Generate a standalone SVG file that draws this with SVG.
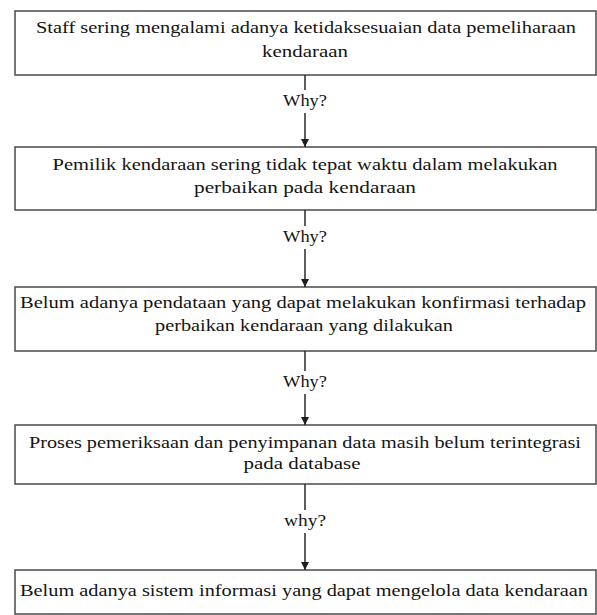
<svg xmlns="http://www.w3.org/2000/svg" width="597" height="615" viewBox="0 0 597 615">
  <style>
    .box { fill: #ffffff; stroke: #4a4a4a; stroke-width: 1.5; }
    .txt { font-family: "Liberation Serif", "Times New Roman", serif; font-size: 16.5px; fill: #141414; text-anchor: middle; }
    .conn { fill: none; stroke: #2a2a2a; stroke-width: 1.5; }
  </style>
  <defs>
    <marker id="arrow" viewBox="0 0 10 10" refX="10" refY="5" markerWidth="8" markerHeight="8" markerUnits="userSpaceOnUse" orient="auto">
      <path d="M0,0 L10,5 L0,10 Z" fill="#1e1e1e"/>
    </marker>
  </defs>
  <rect width="597" height="615" fill="#ffffff"/>

  <g id="node1">
    <rect class="box" x="15" y="11" width="581" height="64"/>
    <text class="txt" x="306" y="33" textLength="540" lengthAdjust="spacingAndGlyphs">Staff sering mengalami adanya ketidaksesuaian data pemeliharaan</text>
    <text class="txt" x="305" y="57" textLength="86" lengthAdjust="spacingAndGlyphs">kendaraan</text>
  </g>

  <g id="node2">
    <rect class="box" x="15" y="147" width="581" height="63"/>
    <text class="txt" x="305" y="170" textLength="505" lengthAdjust="spacingAndGlyphs">Pemilik kendaraan sering tidak tepat waktu dalam melakukan</text>
    <text class="txt" x="305" y="193" textLength="222" lengthAdjust="spacingAndGlyphs">perbaikan pada kendaraan</text>
  </g>

  <g id="node3">
    <rect class="box" x="15" y="287" width="581" height="64"/>
    <text class="txt" x="303" y="308" textLength="566" lengthAdjust="spacingAndGlyphs">Belum adanya pendataan yang dapat melakukan konfirmasi terhadap</text>
    <text class="txt" x="304" y="331" textLength="298" lengthAdjust="spacingAndGlyphs">perbaikan kendaraan yang dilakukan</text>
  </g>

  <g id="node4">
    <rect class="box" x="15" y="425" width="581" height="59"/>
    <text class="txt" x="305" y="448" textLength="552" lengthAdjust="spacingAndGlyphs">Proses pemeriksaan dan penyimpanan data masih belum terintegrasi</text>
    <text class="txt" x="302" y="469" textLength="117" lengthAdjust="spacingAndGlyphs">pada database</text>
  </g>

  <g id="node5">
    <rect class="box" x="15" y="570" width="581" height="44"/>
    <text class="txt" x="304" y="596" textLength="568" lengthAdjust="spacingAndGlyphs">Belum adanya sistem informasi yang dapat mengelola data kendaraan</text>
  </g>

  <g id="connectors">
    <path class="conn" d="M305,75 V90 M305,113 V147" marker-end="url(#arrow)"/>
    <text class="txt" x="305" y="106" textLength="44" lengthAdjust="spacingAndGlyphs">Why?</text>

    <path class="conn" d="M305,210 V226 M305,249 V287" marker-end="url(#arrow)"/>
    <text class="txt" x="305" y="242" textLength="44" lengthAdjust="spacingAndGlyphs">Why?</text>

    <path class="conn" d="M305,351 V371 M305,394 V425" marker-end="url(#arrow)"/>
    <text class="txt" x="305" y="387" textLength="44" lengthAdjust="spacingAndGlyphs">Why?</text>

    <path class="conn" d="M305,484 V510 M305,533 V570" marker-end="url(#arrow)"/>
    <text class="txt" x="305" y="526" textLength="42" lengthAdjust="spacingAndGlyphs">why?</text>
  </g>
</svg>
